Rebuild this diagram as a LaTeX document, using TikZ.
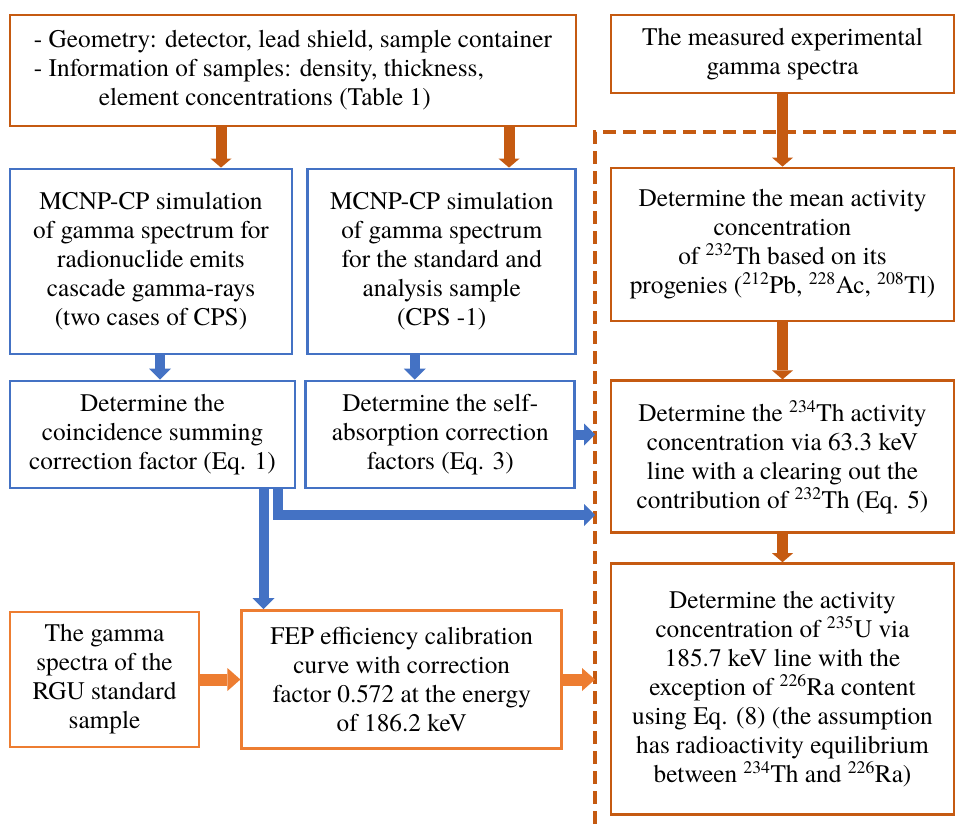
\documentclass[tikz,border=0pt]{standalone}
\usepackage{fontspec}
\setmainfont{texgyretermes}[Extension=.otf, UprightFont=*-regular, BoldFont=*-bold, ItalicFont=*-italic]
\usepackage{xcolor}
\usepackage{tikz}
\usetikzlibrary{arrows.meta,positioning}

\definecolor{dorange}{HTML}{C55A11}
\definecolor{lorange}{HTML}{ED7D31}
\definecolor{mblue}{HTML}{4472C4}

\begin{document}
\begin{tikzpicture}[
        x=1pt, y=-1pt,
        font=\fontsize{25.3}{29}\selectfont,
        box/.style={rectangle, line width=2.8pt, fill=white, align=center, inner sep=0pt},
        input/.style={box, draw=dorange},
        sim/.style={box, draw=mblue},
        calib/.style={box, draw=lorange},
        result/.style={box, draw=dorange, minimum width=343pt},
        darrow/.style={line width=11pt, dorange, -{Triangle[width=21pt,length=9pt,line width=0pt]}},
        barrow/.style={line width=10pt, mblue, -{Triangle[width=22pt,length=11pt,line width=0pt]}},
        larrow/.style={line width=12pt, lorange, -{Triangle[width=23pt,length=13pt,line width=0pt]}},
        dashline/.style={line width=4pt, dorange, dash pattern=on 13pt off 7pt}
    ]
        \useasboundingbox (0,0) rectangle (957,824);

        % inputs
        \node[input, align=left, minimum width=566pt, minimum height=111pt] (geom) at (293,70.5) {
            - Geometry: detector, lead shield, sample container\\
            - Information of samples: density, thickness,\\
            \hspace*{65pt}element concentrations (Table 1)
        };
        \node[input, minimum width=343pt, minimum height=78pt] (measured) at (782.5,54) {
            The measured experimental\\
            gamma spectra
        };

        % MCNP-CP part
        \node[sim, minimum width=282pt, minimum height=185pt] (simcps) at (151,261.5) {
            MCNP-CP simulation\\
            of gamma spectrum for\\
            radionuclide emits\\
            cascade gamma-rays\\
            (two cases of CPS)
        };
        \node[sim, minimum width=268pt, minimum height=185pt, right=13pt of simcps] (simstd) {
            MCNP-CP simulation\\
            of gamma spectrum\\
            for the standard and\\
            analysis sample\\
            (CPS -1)
        };
        \node[sim, minimum width=285pt, minimum height=107pt] (coinc) at (152.5,434.5) {
            Determine the\\
            coincidence summing\\
            correction factor (Eq. 1)
        };
        \node[sim, minimum width=269pt, minimum height=107pt, right=8pt of coinc] (selfabs) {
            Determine the self-\\
            absorption correction\\
            factors (Eq. 3)
        };

        % efficiency calibration
        \node[calib, minimum width=189pt, minimum height=135pt] (rgu) at (104.5,679.5) {
            The gamma\\
            spectra of the\\
            RGU standard\\
            sample
        };
        \node[calib, minimum width=320pt, minimum height=138pt, right=40pt of rgu] (fep) {
            FEP efficiency calibration\\
            curve with correction\\
            factor 0.572 at the energy\\
            of 186.2 keV
        };

        % analysis column
        \node[result, minimum height=153pt] (thmean) at (782.5,244.5) {
            Determine the mean activity\\
            concentration\\
            of \textsuperscript{232}Th based on its\\
            progenies (\textsuperscript{212}Pb, \textsuperscript{228}Ac, \textsuperscript{208}Tl)
        };
        \node[result, minimum height=152pt, below=57pt of thmean] (thact) {
            Determine the \textsuperscript{234}Th activity\\
            concentration via 63.3 keV\\
            line with a clearing out the\\
            contribution of \textsuperscript{232}Th (Eq. 5)
        };
        \node[result, minimum height=251pt, below=28pt of thact] (uact) {
            Determine the activity\\
            concentration of \textsuperscript{235}U via\\
            185.7 keV line with the\\
            exception of \textsuperscript{226}Ra content\\
            using Eq. (8) (the assumption\\
            has radioactivity equilibrium\\
            between \textsuperscript{234}Th and \textsuperscript{226}Ra)
        };

        \coordinate (dashtop) at (595,132);
        \coordinate (dashbot) at (595,824);
        \coordinate (dashend) at (957,132);
        \coordinate (bend) at (278,515);
        \draw[dashline] (dashbot) -- (dashtop) -- (dashend);

        \draw[darrow] ([xshift=-72pt]geom.south) -- ([xshift=-72pt]geom.south |- simcps.north);
        \draw[darrow] ([xshift=216pt]geom.south) -- ([xshift=216pt]geom.south |- simstd.north);
        \draw[darrow] (measured.south) -- (thmean.north);
        \draw[darrow] (thmean.south) -- (thact.north);
        \draw[darrow] (thact.south) -- (uact.north);

        \draw[barrow] ([xshift=9pt]simcps.south) -- ([xshift=9pt]simcps.south |- coinc.north);
        \draw[barrow] ([xshift=-27pt]simstd.south) -- ([xshift=-27pt]simstd.south |- selfabs.north);
        \draw[barrow] (selfabs.east) -- (selfabs.east -| dashtop);
        \draw[barrow] (coinc.south -| bend) -- (bend) -- (bend -| dashtop);
        \draw[barrow] ([xshift=111pt]coinc.south) -- ([xshift=111pt]coinc.south |- fep.north);

        \draw[larrow] (rgu.east) -- (rgu.east -| fep.west);
        \draw[larrow] (fep.east) -- (fep.east -| dashtop);
    \end{tikzpicture}
\end{document}
